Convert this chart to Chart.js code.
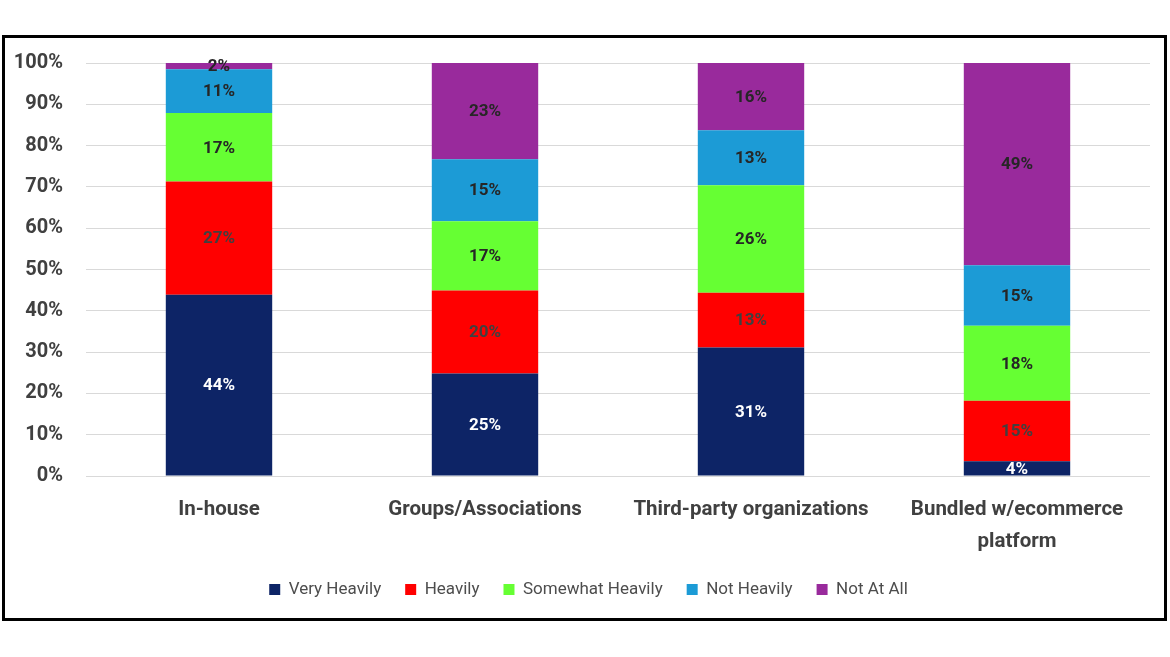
<!DOCTYPE html>
<html>
<head>
<meta charset="utf-8">
<script src="https://cdn.jsdelivr.net/npm/chart.js@4.4.1/dist/chart.umd.min.js"></script>
<style>
  html, body { margin: 0; padding: 0; background: #fff; }
  #frame { position: absolute; left: 2px; top: 35px; width: 1159px; height: 580px; border: 3px solid #000; background: #fff; }
</style>
</head>
<body>
<div id="frame"><canvas id="myChart"></canvas></div>
<script>
// categories + series (percent of respondents)
var categories = ["In-house", "Groups/Associations", "Third-party organizations", ["Bundled w/ecommerce", "platform"]];
var veryHeavily     = [43.9, 24.8, 31.1, 3.6];
var heavily         = [27.4, 20.1, 13.3, 14.6];
var somewhatHeavily = [16.6, 16.8, 26.0, 18.2];
var notHeavily      = [10.6, 15.0, 13.3, 14.6];
var notAtAll        = [1.5, 23.3, 16.3, 49.0];
var yTicks = [0, 10, 20, 30, 40, 50, 60, 70, 80, 90, 100];

var fontFamily = "Roboto, 'Liberation Sans', sans-serif";

// 막대 안 라벨 색
var labelColors = ["#ffffff", "#404040", "#262626", "#262626", "#262626"];

// 막대 가운데에 값 그리기 + 범례 살짝 오른쪽으로
var barLabels = {
  id: "barLabels",
  afterLayout: function(chart) {
    if (chart.legend) {
      chart.legend.left += 11;
      chart.legend.right += 11;
    }
  },
  afterDatasetsDraw: function(chart) {
    var ctx = chart.ctx;
    ctx.save();
    ctx.font = "bold 17px " + fontFamily;
    ctx.textAlign = "center";
    ctx.textBaseline = "middle";
    chart.data.datasets.forEach(function(ds, i) {
      var meta = chart.getDatasetMeta(i);
      meta.data.forEach(function(bar, j) {
        var p = bar.getProps(["x", "y", "base"], true);
        ctx.fillStyle = labelColors[i];
        ctx.fillText(Math.round(ds.data[j]) + "%", p.x, (p.y + p.base) / 2 + 1);
      });
    });
    ctx.restore();
  }
};

var ctx = document.getElementById("myChart");
var myChart = new Chart(ctx, {
  type: "bar",
  data: {
    labels: categories,
    datasets: [
      { label: "Very Heavily", data: veryHeavily, backgroundColor: "#0d2466" },
      { label: "Heavily", data: heavily, backgroundColor: "#ff0000" },
      { label: "Somewhat Heavily", data: somewhatHeavily, backgroundColor: "#66ff33" },
      { label: "Not Heavily", data: notHeavily, backgroundColor: "#1c9bd6" },
      { label: "Not At All", data: notAtAll, backgroundColor: "#992a9c" }
    ]
  },
  options: {
    responsive: true,
    maintainAspectRatio: false,
    animation: false,
    categoryPercentage: 1,
    barPercentage: 0.4,
    layout: { padding: { top: 5, right: 14, bottom: 10, left: 0 } },
    plugins: {
      tooltip: { enabled: false },
      legend: {
        position: "bottom",
        labels: {
          boxWidth: 11,
          boxHeight: 11,
          padding: 24,
          color: "#4d4d4d",
          font: { family: fontFamily, size: 17 }
        }
      }
    },
    scales: {
      x: {
        stacked: true,
        grid: { display: false, drawTicks: false },
        border: { display: false },
        ticks: {
          padding: 17,
          maxRotation: 0,
          minRotation: 0,
          autoSkip: false,
          color: "#404040",
          font: { family: fontFamily, size: 20.5, weight: "bold", lineHeight: 1.6 }
        },
        afterFit: function(scale) { scale.height = 81; }
      },
      y: {
        stacked: true,
        min: 0,
        max: 100,
        grid: { color: "#d9d9d9", drawTicks: true, tickLength: 10, tickColor: "rgba(0,0,0,0)" },
        border: { display: false },
        afterBuildTicks: function(scale) {
          scale.ticks = yTicks.map(function(v) { return { value: v }; });
        },
        ticks: {
          padding: 13,
          color: "#404040",
          font: { family: fontFamily, size: 20, weight: "bold" },
          callback: function(v) { return v + "%"; }
        },
        afterFit: function(scale) { scale.width = 81; }
      }
    }
  },
  plugins: [barLabels]
});
</script>
</body>
</html>
